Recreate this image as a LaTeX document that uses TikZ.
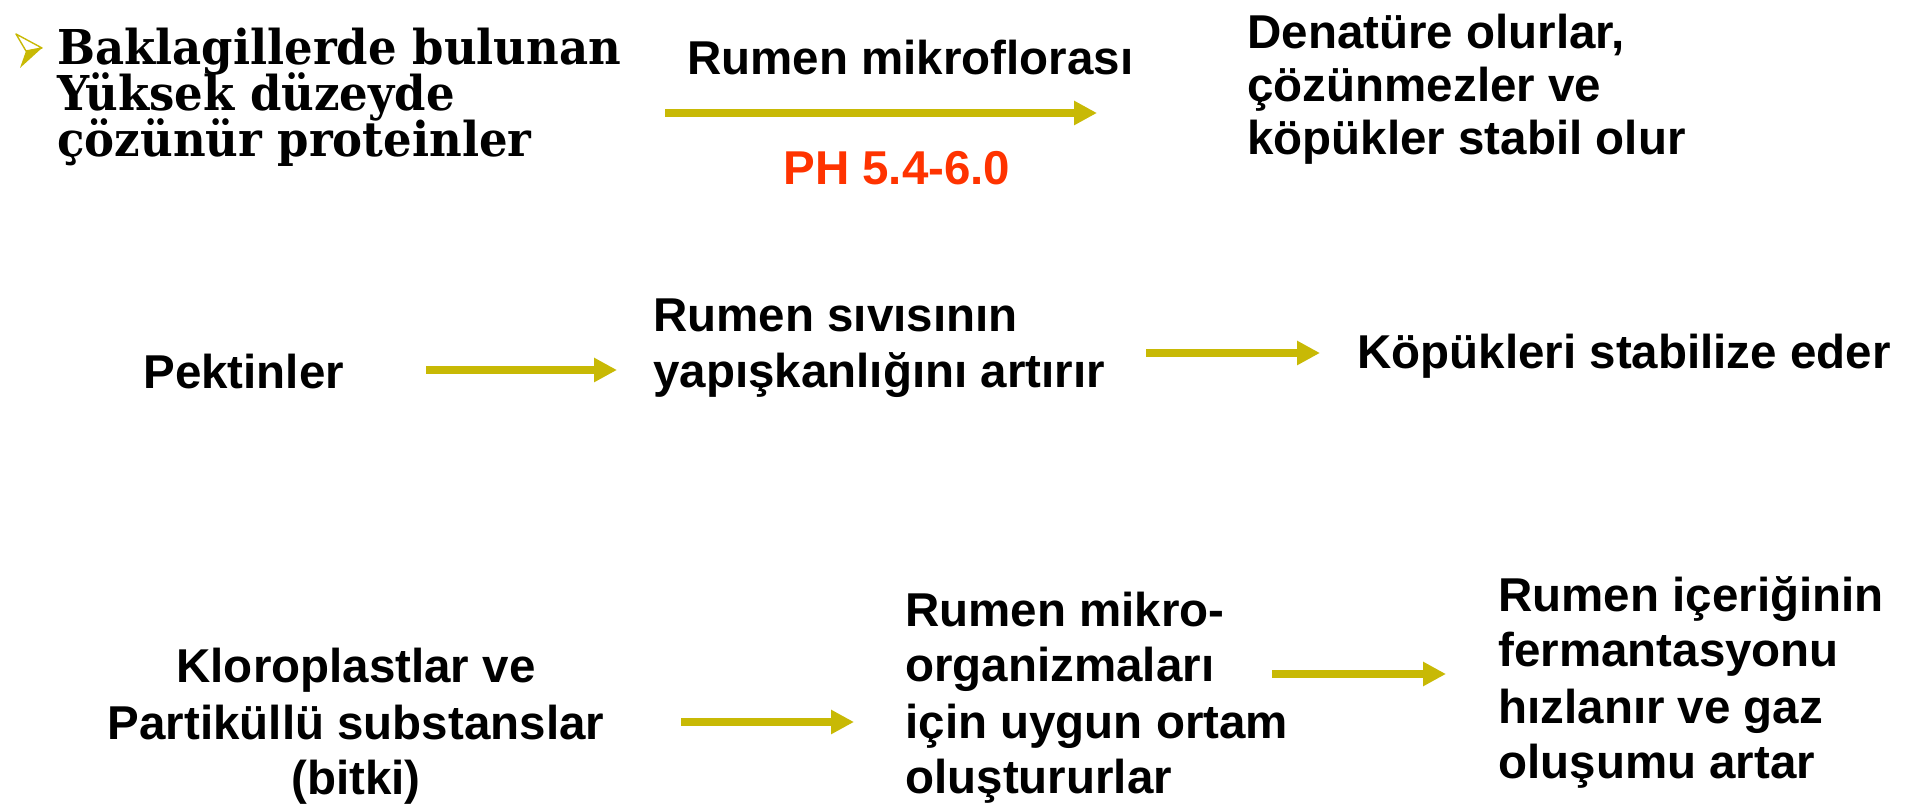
\documentclass[tikz,border=0pt]{standalone}
\usepackage{fontspec}
\setmainfont{Liberation Sans}
\newfontfamily\slabfont[FakeStretch=0.937]{DejaVu Serif}
\newcommand\slabtight{\lineskiplimit=-30pt\relax}
\usetikzlibrary{arrows.meta}
\definecolor{olivearrow}{RGB}{200,185,5}
\definecolor{phred}{RGB}{255,51,0}

\begin{document}
\begin{tikzpicture}[x=0.5pt,y=-0.5pt]
\useasboundingbox (0,0) rectangle (1913,806);
\tikzstyle{arrow}=[draw=olivearrow, line width=4pt, -{Triangle[length=11.5pt,width=11.5pt]}]

% Define the txt style for the bold sans texts
\tikzstyle{txt}=[inner sep=0pt, anchor=base west, align=left, font=\bfseries\fontsize{23.75}{28}\selectfont]

% Define the slab style for the serif heading
\tikzstyle{slab}=[inner sep=0pt, anchor=base west, align=left, font={\slabfont\bfseries\fontsize{24}{23}\selectfont\slabtight}]

% the bullet in front of the heading
\filldraw[draw=olivearrow, fill=white, line width=0.7pt, line join=round] (16,34) -- (42,48) -- (26,51) -- cycle;
\fill[olivearrow] (26,51) -- (42,48) -- (20,68) -- cycle;

% define the nodes of the first row (base = last line)
\node (baklagil) [slab] at (57,157) {Baklagillerde bulunan\\Yüksek düzeyde\\çözünür proteinler};
\node (mikroflora) [txt] at (687,75) {Rumen mikroflorası};
\node (ph) [txt, text=phred] at (783,185) {PH 5.4-6.0};
\node (denature) [txt, font=\bfseries\fontsize{23.75}{26.5}\selectfont] at (1247,155) {Denatüre olurlar,\\çözünmezler ve\\köpükler stabil olur};

% define the nodes of the second row
\node (pektin) [txt] at (143,389) {Pektinler};
\node (sivi) [txt] at (653,388) {Rumen sıvısının\\yapışkanlığını artırır};
\node (kopuk) [txt] at (1357,369) {Köpükleri stabilize eder};

% define the nodes of the third row
\node (kloroplast) [txt, anchor=base, align=center] at (356,795) {Kloroplastlar ve\\Partiküllü substanslar\\(bitki)};
\node (ortam) [txt] at (905,794) {Rumen mikro-\\organizmaları\\için uygun ortam\\oluştururlar};
\node (ferment) [txt] at (1498,779) {Rumen içeriğinin\\fermantasyonu\\hızlanır ve gaz\\oluşumu artar};

% define the ends of the arrows
\coordinate (mikroA) at (665,113);
\coordinate (mikroB) at (1097,113);
\coordinate (pektinA) at (426,370);
\coordinate (pektinB) at (617,370);
\coordinate (siviA) at (1146,353);
\coordinate (siviB) at (1320,353);
\coordinate (klorA) at (681,722);
\coordinate (klorB) at (854,722);
\coordinate (ortamA) at (1272,674);
\coordinate (ortamB) at (1446,674);

% define the arrows between the nodes
\draw[arrow] (mikroA) -- (mikroB);
\draw[arrow] (pektinA) -- (pektinB);
\draw[arrow] (siviA) -- (siviB);
\draw[arrow] (klorA) -- (klorB);
\draw[arrow] (ortamA) -- (ortamB);

\end{tikzpicture}
\end{document}
